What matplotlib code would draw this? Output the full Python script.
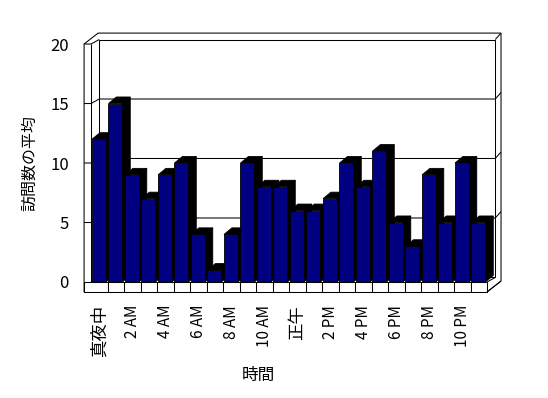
import matplotlib
matplotlib.use('Agg')
import matplotlib.pyplot as plt
from matplotlib.patches import Polygon
import numpy as np

plt.rcParams['font.family'] = ['Noto Sans CJK JP', 'DejaVu Sans']

# data: average visits per hour of the day
hours = ['真夜中', '1 AM', '2 AM', '3 AM', '4 AM', '5 AM', '6 AM', '7 AM', '8 AM', '9 AM',
         '10 AM', '11 AM', '正午', '1 PM', '2 PM', '3 PM', '4 PM', '5 PM', '6 PM', '7 PM',
         '8 PM', '9 PM', '10 PM', '11 PM']
visits = [12, 15, 9, 7, 9, 10, 4, 1, 4, 10, 8, 8, 6, 6, 7, 10, 8, 11, 5, 3, 9, 5, 10, 5]
y_ticks = [0, 5, 10, 15, 20]

n = len(visits)
ymax = y_ticks[-1]

# fake 3d geometry (data units)
dx, dy = 0.5, 0.38      # inner depth (front plane -> back wall)
tx, ty = 0.85, 0.92     # outer depth of the box
wall = 0.42             # left wall thickness
floor = 0.84            # floor thickness
bdx, bdy = 0.48, 0.55   # bar depth
b0, b1 = 0.06, 0.9      # bar front face inside its slot

fig = plt.figure(figsize=(5.48, 3.98), dpi=100)
ax = fig.add_axes([80 / 548, 100 / 398, 440 / 548, 278 / 398])
ax.set_xlim(-0.667, 26.0)
ax.set_ylim(-1.345, 22.02)
for s in ax.spines.values():
    s.set_visible(False)

lw = 0.75
kw = dict(color='black', linewidth=lw, solid_capstyle='butt')

# outer silhouette of the box
outer = [(-wall, -floor), (n, -floor), (n + tx, -floor + ty), (n + tx, ymax + ty),
         (-wall + tx, ymax + ty), (-wall, ymax)]
ax.add_patch(Polygon(outer, closed=True, facecolor='white', edgecolor='black', linewidth=lw, zorder=1))

# back wall front face
ax.add_patch(Polygon([(dx, dy), (n + dx, dy), (n + dx, ymax + dy), (dx, ymax + dy)],
                     closed=True, facecolor='white', edgecolor='black', linewidth=lw, zorder=2))

# left wall edges
ax.plot([0, 0], [0, ymax], zorder=2, **kw)
ax.plot([-wall, 0, dx], [ymax, ymax, ymax + dy], zorder=2, **kw)
ax.plot([n + dx, n + tx], [ymax + dy, ymax + ty], zorder=2, **kw)

# gridlines wrapped round the walls
for v in y_ticks[1:-1]:
    ax.plot([-wall, 0, dx, n + dx], [v, v, v + dy, v + dy], zorder=2, **kw)
    ax.plot([n + dx, n + tx], [v + dy, v + ty], zorder=2, **kw)

# floor top
ax.plot([0, dx], [0, dy], zorder=2, **kw)
ax.plot([n, n + dx], [0, dy], zorder=2, **kw)

# bars, left to right so each front hides the neighbour's side
for i, v in enumerate(visits):
    xl, xr = i + b0, i + b1
    side = [(xr, 0), (xr + bdx, bdy), (xr + bdx, v + bdy), (xr, v)]
    top = [(xl, v), (xr, v), (xr + bdx, v + bdy), (xl + bdx, v + bdy)]
    front = [(xl, 0), (xr, 0), (xr, v), (xl, v)]
    z = 3 + i * 0.01
    ax.add_patch(Polygon(side, closed=True, facecolor='black', edgecolor='black', linewidth=0.6, zorder=z))
    ax.add_patch(Polygon(top, closed=True, facecolor='black', edgecolor='black', linewidth=0.6, zorder=z))
    ax.add_patch(Polygon(front, closed=True, facecolor='#000080', edgecolor='black', linewidth=0.6, zorder=z))

# floor front face with category dividers
ax.add_patch(Polygon([(-wall, -floor), (n, -floor), (n, 0), (-wall, 0)], closed=True,
                     facecolor='white', edgecolor='black', linewidth=lw, zorder=4))
for i in range(1, n):
    ax.plot([i, i], [-floor, 0], zorder=4, **kw)
ax.plot([n, n + tx], [-floor, -floor + ty], zorder=4, **kw)

ax.set_yticks(y_ticks)
ax.set_yticklabels([str(t) for t in y_ticks], fontsize=12)
ax.set_xticks(np.arange(0, n, 2) + 0.5)
ax.set_xticklabels(hours[::2], rotation=90, fontsize=11, va='top', ha='center')
# the japanese labels come out larger in the original
for lab in ax.get_xticklabels():
    if not lab.get_text()[0].isdigit():
        lab.set_fontsize(12.5)
ax.tick_params(length=0)
ax.tick_params(axis='y', pad=8)
ax.tick_params(axis='x', pad=5)

ax.set_ylabel('訪問数の平均', fontsize=11.5)
ax.yaxis.set_label_coords((38 - 80) / 440, (298 - 163) / 278)
ax.set_xlabel('時間', fontsize=12)
ax.xaxis.set_label_coords((258 - 80) / 440, (298 - 367) / 278)

fig.savefig('out.png', dpi=100)
